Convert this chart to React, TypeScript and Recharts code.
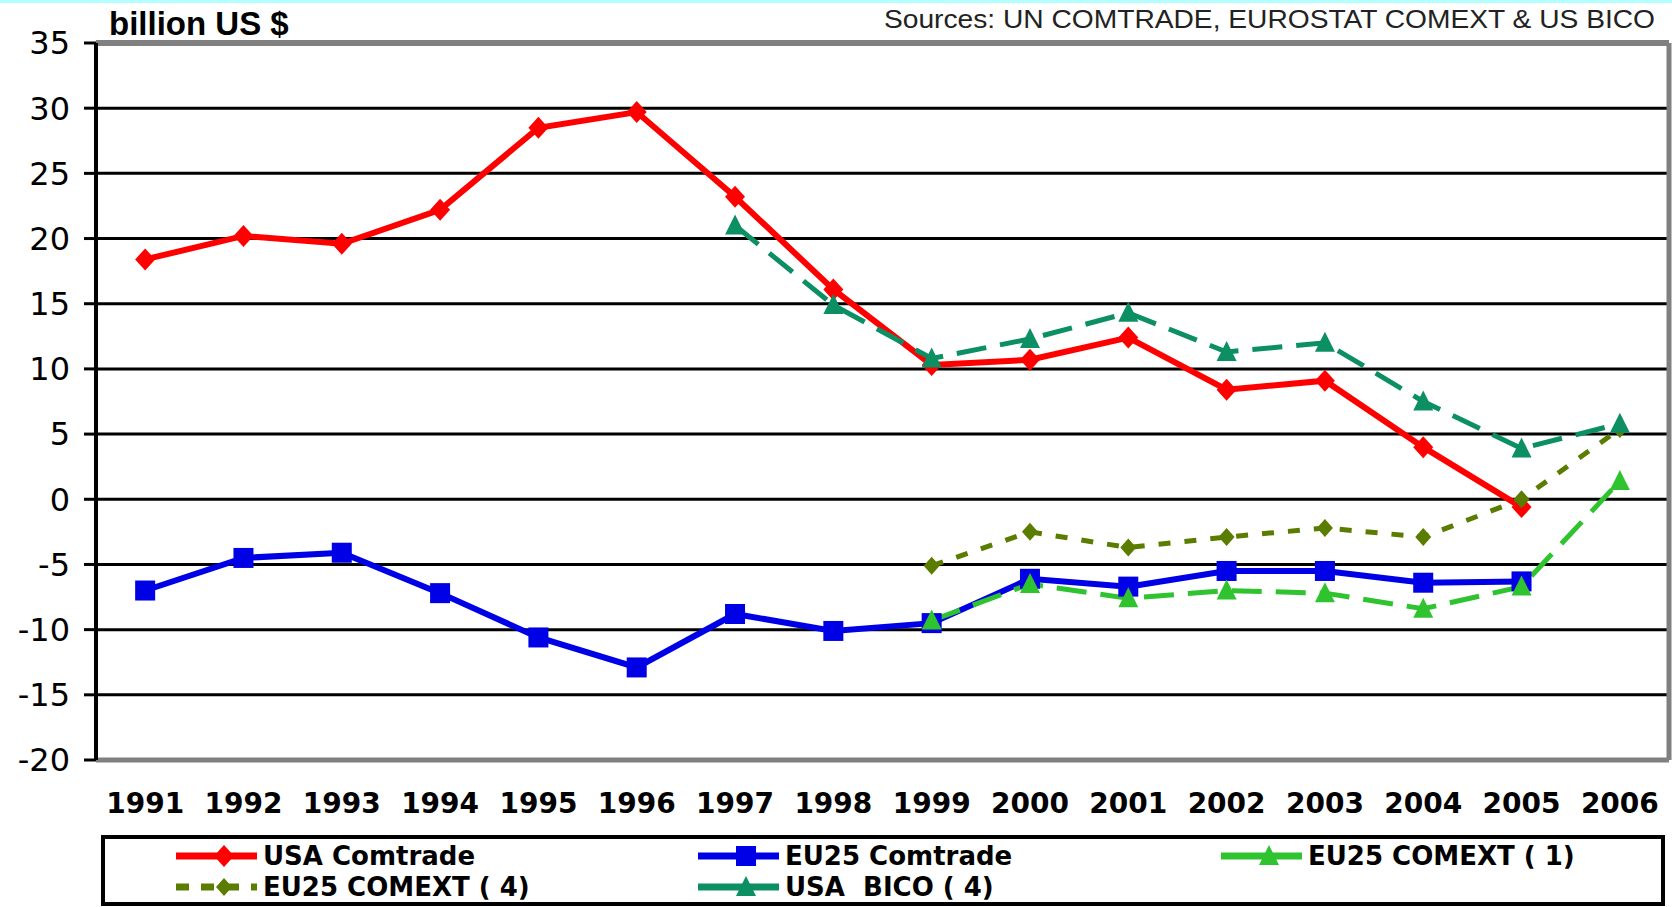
import { LineChart, Line, XAxis, YAxis, CartesianGrid, ReferenceLine, Legend } from "recharts";

const years = ["1991", "1992", "1993", "1994", "1995", "1996", "1997", "1998", "1999", "2000", "2001", "2002", "2003", "2004", "2005", "2006"];
const usaComtrade = [18.4, 20.2, 19.6, 22.2, 28.5, 29.7, 23.2, 16.1, 10.3, 10.7, 12.4, 8.4, 9.1, 4.0, -0.6, null];
const eu25Comtrade = [-7.0, -4.5, -4.1, -7.2, -10.6, -12.9, -8.8, -10.1, -9.5, -6.1, -6.7, -5.5, -5.5, -6.4, -6.3, null];
const eu25Comext1 = [null, null, null, null, null, null, null, null, -9.3, -6.5, -7.6, -7.0, -7.2, -8.4, -6.7, 1.4];
const eu25Comext4 = [null, null, null, null, null, null, null, null, -5.1, -2.5, -3.7, -2.9, -2.2, -2.9, 0.0, 5.4];
const usaBico = [null, null, null, null, null, null, 21.0, 14.9, 10.8, 12.3, 14.3, 11.3, 12.0, 7.5, 3.9, 5.8];
const yTicks = [-20, -15, -10, -5, 0, 5, 10, 15, 20, 25, 30, 35];

const data = years.map((year, i) => ({
  year,
  usaComtrade: usaComtrade[i],
  eu25Comtrade: eu25Comtrade[i],
  eu25Comext1: eu25Comext1[i],
  eu25Comext4: eu25Comext4[i],
  usaBico: usaBico[i],
}));

const SERIES = [
  { key: "usaComtrade", name: "USA Comtrade", color: "#ff0000", width: 6, dash: undefined, shape: "diamond", col: 0, row: 0 },
  { key: "eu25Comtrade", name: "EU25 Comtrade", color: "#0000e6", width: 6, dash: undefined, shape: "square", col: 1, row: 0 },
  { key: "eu25Comext1", name: "EU25 COMEXT ( 1)", color: "#2fc42f", width: 5, dash: "30 14", shape: "triangle", col: 2, row: 0 },
  { key: "eu25Comext4", name: "EU25 COMEXT ( 4)", color: "#5a7d00", width: 5, dash: "12 14", shape: "small", col: 0, row: 1 },
  { key: "usaBico", name: "USA  BICO ( 4)", color: "#0b8f63", width: 5, dash: "30 14", shape: "triangle", col: 1, row: 1 },
];

function Marker({ cx, cy, shape, color }: any) {
  if (cx == null || cy == null || isNaN(cx) || isNaN(cy)) return null;
  if (shape === "square") {
    return <rect x={cx - 10} y={cy - 10} width={20} height={20} fill={color} />;
  }
  if (shape === "triangle") {
    return <polygon points={`${cx},${cy - 11} ${cx + 10},${cy + 9} ${cx - 10},${cy + 9}`} fill={color} />;
  }
  if (shape === "small") {
    return <polygon points={`${cx},${cy - 9} ${cx + 8},${cy} ${cx},${cy + 9} ${cx - 8},${cy}`} fill={color} />;
  }
  return <polygon points={`${cx},${cy - 11} ${cx + 10},${cy} ${cx},${cy + 11} ${cx - 10},${cy}`} fill={color} />;
}

function renderLegend() {
  const colX = [71, 593, 1116];
  const rowY = [17, 48];
  return (
    <div style={{ position: "relative", width: 1564, height: 71, border: "4px solid #000", boxSizing: "border-box", background: "#fff" }}>
      {SERIES.map((s) => (
        <div key={s.key} style={{ position: "absolute", left: colX[s.col], top: rowY[s.row] - 17, height: 34, display: "flex", alignItems: "center" }}>
          <svg width={81} height={34}>
            <line x1={0} y1={17} x2={81} y2={17} stroke={s.color} strokeWidth={7} strokeDasharray={s.dash === "12 14" ? "13 12" : undefined} />
            <Marker cx={48} cy={17} shape={s.shape} color={s.color} />
          </svg>
          <span style={{ marginLeft: 6, fontFamily: "DejaVu Sans", fontWeight: "bold", fontSize: 26, color: "#000", whiteSpace: "pre" }}>
            {s.name}
          </span>
        </div>
      ))}
    </div>
  );
}

export default function App() {
  return (
    <div style={{ position: "relative", width: 1672, height: 907, background: "#fff" }}>
      <style>{`body{margin:0}`}</style>
      <LineChart width={1672} height={907} data={data} margin={{ top: 43, right: 0, left: 0, bottom: 87 }}>
        <CartesianGrid vertical={false} stroke="#000" strokeWidth={3} strokeOpacity={1} />
        <XAxis
          dataKey="year"
          scale="band"
          height={60}
          tickLine={false}
          tickSize={0}
          tickMargin={33}
          axisLine={{ stroke: "#808080", strokeWidth: 5 }}
          tick={{ fontFamily: "DejaVu Sans", fontWeight: "bold", fontSize: 28, fill: "#000" }}
          interval={0}
        />
        <YAxis
          type="number"
          domain={[-20, 35]}
          ticks={yTicks}
          width={96}
          tickSize={12}
          tickMargin={14}
          tickLine={{ stroke: "#000", strokeWidth: 3 }}
          axisLine={{ stroke: "#000", strokeWidth: 4 }}
          tick={{ fontFamily: "DejaVu Sans", fontSize: 32, fill: "#000" }}
          allowDataOverflow
          interval={0}
        />
        <YAxis
          yAxisId="right"
          orientation="right"
          type="number"
          domain={[-20, 35]}
          width={3}
          tick={false}
          tickLine={false}
          axisLine={{ stroke: "#808080", strokeWidth: 5 }}
        />
        <ReferenceLine y={35} stroke="#808080" strokeWidth={6} />
        {SERIES.map((s) => (
          <Line
            key={s.key}
            type="linear"
            dataKey={s.key}
            name={s.name}
            stroke={s.color}
            strokeWidth={s.width}
            strokeDasharray={s.dash}
            isAnimationActive={false}
            activeDot={false}
            dot={(p: any) => <Marker key={`${s.key}-${p.index}`} cx={p.cx} cy={p.cy} shape={s.shape} color={s.color} />}
          />
        ))}
        <Legend
          verticalAlign="middle"
          align="center"
          layout="horizontal"
          content={renderLegend}
          wrapperStyle={{ left: 101, top: 835, width: 1564, height: 71 }}
        />
      </LineChart>
      <div style={{ position: "absolute", left: 0, top: 0, width: 1672, height: 3, background: "#b3ffff" }} />
      <svg style={{ position: "absolute", left: 0, top: 0, pointerEvents: "none" }} width={1672} height={42}>
        <text x={109} y={35} fontFamily="Liberation Sans" fontWeight="bold" fontSize={33} fill="#000">
          billion US $
        </text>
        <text x={884} y={28} fontFamily="Liberation Sans" fontSize={25} fill="#222" textLength={771} lengthAdjust="spacingAndGlyphs">
          Sources: UN COMTRADE, EUROSTAT COMEXT &amp; US BICO
        </text>
      </svg>
    </div>
  );
}
